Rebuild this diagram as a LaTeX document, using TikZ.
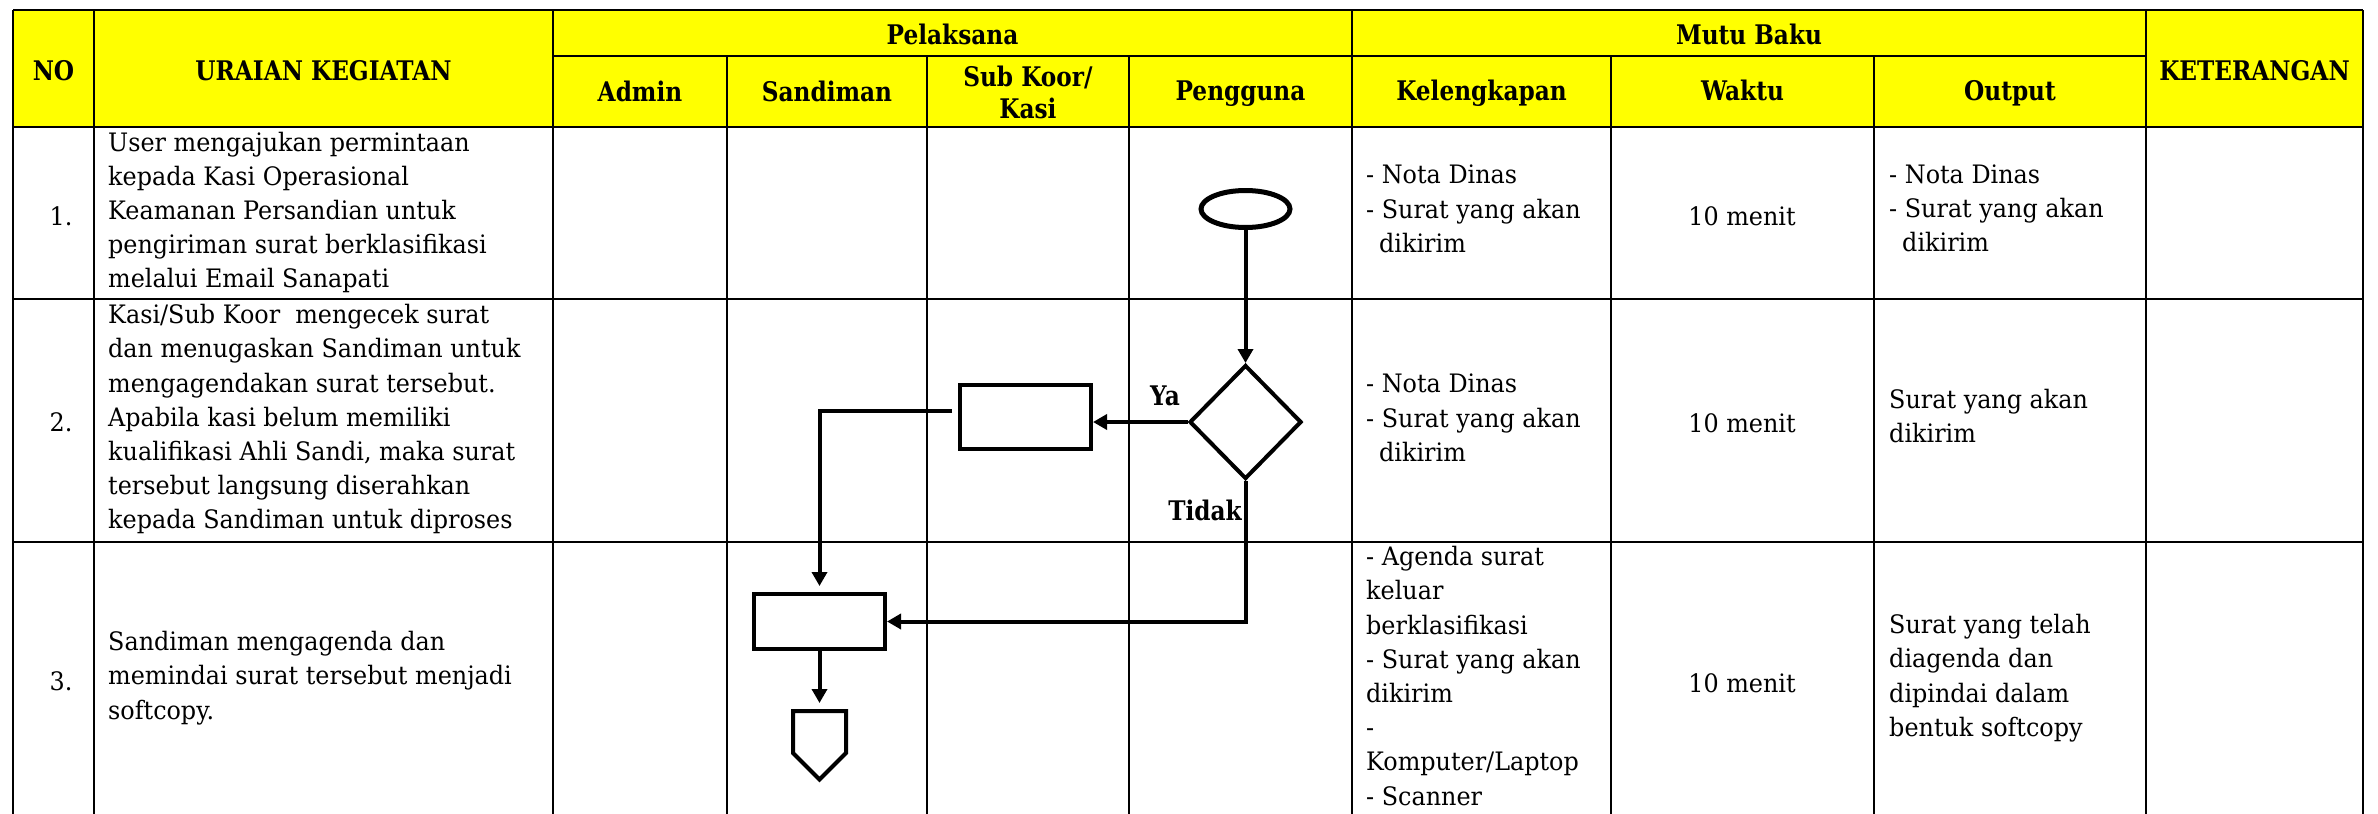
\documentclass[tikz,border=0pt]{standalone}
\usepackage{fontspec}
\setmainfont{DejaVu Serif}[FakeStretch=0.94, BoldFeatures={FakeStretch=0.86}]
\usetikzlibrary{arrows.meta,shapes.geometric}
\definecolor{hdryellow}{HTML}{FFFF00}
\newcommand{\cellfont}{\fontsize{25.4}{34.2}\selectfont}
\newcommand{\hdrfont}{\bfseries\fontsize{27}{32}\selectfont}
\tikzset{
  tabline/.style={line width=1.8pt},
  rowline/.style={line width=2.4pt},
  hdr/.style={font=\hdrfont, inner sep=0pt, anchor=base},
  cell/.style={font=\cellfont, inner sep=0pt, align=left, anchor=north west},
  num/.style={font=\cellfont, inner sep=0pt, anchor=base},
  flowline/.style={line width=4pt},
  arrow/.style={flowline, -{Triangle[length=14pt,width=15pt]}},
  procbox/.style={draw, line width=4pt, minimum width=131pt, inner sep=0pt},
  decision/.style={diamond, draw, line width=4pt, minimum width=112pt, minimum height=114pt, inner sep=0pt},
  terminal/.style={ellipse, draw, line width=5pt, minimum width=89pt, minimum height=37pt, inner sep=0pt},
  flowlabel/.style={font=\hdrfont, inner sep=0pt}
}
\begin{document}
\begin{tikzpicture}[x=1pt,y=-1pt]
        \useasboundingbox (0,0) rectangle (2378,814);

        % header background
        \fill[hdryellow] (13,10) rectangle (2363,127);

        % horizontal lines
        \draw[rowline] (13,10) -- (2363,10);
        \draw[tabline] (553,56) -- (2146,56);
        \foreach \y in {127,299,542}
          \draw[rowline] (13,\y) -- (2363,\y);

        % vertical lines
        \foreach \x in {13,94,553,1352,2146,2363}
          \draw[tabline] (\x,10) -- (\x,814);
        \foreach \x in {727,927,1129,1611,1874}
          \draw[tabline] (\x,56) -- (\x,814);

        % header texts
        \node[hdr] (hno) at (53.5,80) {NO};
        \node[hdr] (huraian) at (323.5,80) {URAIAN KEGIATAN};
        \node[hdr] (hpelaksana) at (952.5,44) {Pelaksana};
        \node[hdr] (hmutu) at (1749,44) {Mutu Baku};
        \node[hdr] (hket) at (2254.5,80) {KETERANGAN};
        \node[hdr] (hadmin) at (640,101) {Admin};
        \node[hdr] (hsandi) at (827,101) {Sandiman};
        \node[hdr, align=center, anchor=north] (hkoor) at (1028,63.6) {\strut Sub Koor/\\Kasi};
        \node[hdr] (hpengguna) at (1240.5,100) {Pengguna};
        \node[hdr] (hlengkap) at (1481.5,100) {Kelengkapan};
        \node[hdr] (hwaktu) at (1742.5,100) {Waktu};
        \node[hdr] (houtput) at (2010,100) {Output};

        % row numbers
        \node[num] (no1) at (61,225) {1.};
        \node[num] (no2) at (61,431.5) {2.};
        \node[num] (no3) at (61,690) {3.};

        % uraian kegiatan
        \node[cell] (ur1) at (108,131.6) {User mengajukan permintaan\\kepada Kasi Operasional\\Keamanan Persandian untuk\\pengiriman surat berklasifikasi\\melalui Email Sanapati};
        \node[cell] (ur2) at (108,304.1) {Kasi/Sub Koor\ \ mengecek surat\\dan menugaskan Sandiman untuk\\mengagendakan surat tersebut.\\Apabila kasi belum memiliki\\kualifikasi Ahli Sandi, maka surat\\tersebut langsung diserahkan\\kepada Sandiman untuk diproses};
        \node[cell] (ur3) at (108,631.1) {Sandiman mengagenda dan\\memindai surat tersebut menjadi\\softcopy.};

        % kelengkapan
        \node[cell] (kl1) at (1366,165.1) {- Nota Dinas\\- Surat yang akan\\\hspace*{13pt}dikirim};
        \node[cell] (kl2) at (1366,374.1) {- Nota Dinas\\- Surat yang akan\\\hspace*{13pt}dikirim};
        \node[cell] (kl3) at (1366,546.1) {- Agenda surat\\keluar\\berklasifikasi\\- Surat yang akan\\dikirim\\-\\Komputer/Laptop\\- Scanner};

        % waktu
        \node[num] (wk1) at (1742,225) {10 menit};
        \node[num] (wk2) at (1742,432) {10 menit};
        \node[num] (wk3) at (1742,692) {10 menit};

        % output
        \node[cell] (out1) at (1889,164.6) {- Nota Dinas\\- Surat yang akan\\\hspace*{13pt}dikirim};
        \node[cell] (out2) at (1889,389.1) {Surat yang akan\\dikirim};
        \node[cell] (out3) at (1889,614.1) {Surat yang telah\\diagenda dan\\dipindai dalam\\bentuk softcopy};

        % flow symbols
        \node[terminal] (start) at (1245.5,209) {};
        \node[decision] (cek) at (1245.5,422) {};
        \node[procbox, minimum height=64pt] (koor) at (1025.5,417) {};
        \node[procbox, minimum height=55pt] (sandi) at (819.5,621.5) {};
        \coordinate (conn) at (819.5,711);
        \draw[flowline, line join=miter] (conn) -- ++(26.5,0) -- ++(0,42) -- ++(-26.5,26.5) -- ++(-26.5,-26.5) -- ++(0,-42) -- cycle;

        % connectors
        \draw[arrow] (start.south) -- (cek.north);
        \draw[arrow] (cek.west) -- (cek.west -| koor.east);
        \draw[arrow] ([xshift=-6pt,yshift=6pt]koor.west) -| ([yshift=6pt]sandi.north);
        \draw[arrow] (cek.south) |- (sandi.east);
        \draw[arrow, shorten >=8pt] (sandi.south) -- (conn);

        % labels
        \node[flowlabel, anchor=base] (ya) at (1165,405) {Ya};
        \node[flowlabel, anchor=base east] (tidak) at (1242,520) {Tidak};
\end{tikzpicture}
\end{document}
